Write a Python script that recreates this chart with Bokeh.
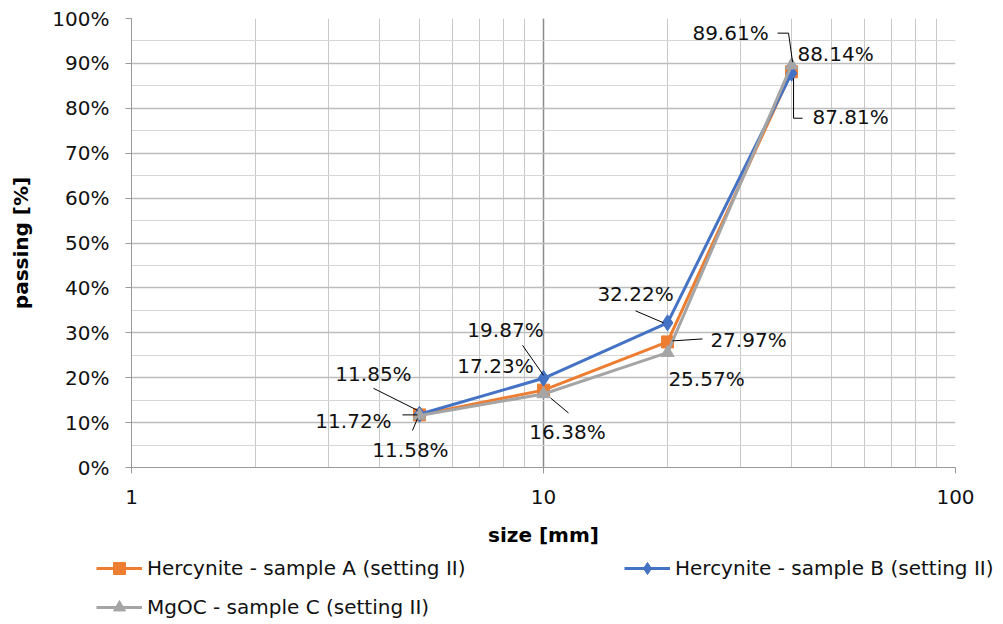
import math
from bokeh.plotting import figure
from bokeh.layouts import column
from bokeh.models import (Range1d, Legend, LegendItem, PrintfTickFormatter,
                          FixedTicker, LogTicker)
from bokeh.core.properties import value
from bokeh.embed import file_html
from bokeh.resources import INLINE

# ---- data ----
sizes = [5, 10, 20, 40]
series_names = ["Hercynite - sample A (setting II)",
                "Hercynite - sample B (setting II)",
                "MgOC - sample C (setting II)"]
sample_a = [11.72, 17.23, 27.97, 88.14]
sample_b = [11.85, 19.87, 32.22, 87.81]
sample_c = [11.58, 16.38, 25.57, 89.61]
y_ticks = [0, 10, 20, 30, 40, 50, 60, 70, 80, 90, 100]
y_minor = [5, 15, 25, 35, 45, 55, 65, 75, 85, 95]

FONT = "DejaVu Sans"
FS = "20px"
W = 1003
H1, H2 = 552, 72
L, R, T, B = 131, 48, 18, 85
fw, fh = W - L - R, H1 - T - B
px_per_dec = fw / 2.0
px_per_unit = fh / 100.0

p = figure(width=W, height=H1, x_axis_type="log", output_backend="svg",
           toolbar_location=None, x_range=Range1d(1, 100), y_range=Range1d(0, 100),
           min_border_left=L, min_border_right=R, min_border_top=T, min_border_bottom=B)
p.outline_line_color = None
p.frame_align = False

p.xaxis.ticker = LogTicker(num_minor_ticks=10)
p.xaxis.formatter = PrintfTickFormatter(format="%d")
p.yaxis.ticker = FixedTicker(ticks=y_ticks, minor_ticks=y_minor)
p.yaxis.formatter = PrintfTickFormatter(format="%d%%")
for ax in (p.xaxis[0], p.yaxis[0]):
    ax.axis_line_color = "#999999"
    ax.major_tick_line_color = "#999999"
    ax.major_tick_out = 6
    ax.major_tick_in = 0
    ax.minor_tick_out = 0
    ax.minor_tick_in = 0
    ax.major_label_text_font = FONT
    ax.major_label_text_font_size = FS
    ax.major_label_text_color = "#111111"
    ax.axis_label_text_font = FONT
    ax.axis_label_text_font_size = FS
    ax.axis_label_text_font_style = "bold"
    ax.axis_label_text_color = "black"
p.xaxis.major_label_standoff = 16
p.yaxis.major_label_standoff = 16
p.xaxis.axis_label = "size [mm]"
p.yaxis.axis_label = "passing [%]"
p.xaxis.axis_label_standoff = 16
p.yaxis.axis_label_standoff = 16

p.xgrid.grid_line_color = "#8c8c8c"
p.xgrid.minor_grid_line_color = "#c8c8c8"
p.ygrid.grid_line_color = "#bdbdbd"
p.ygrid.minor_grid_line_color = "#d6d6d6"
p.xgrid.grid_line_width = 1.5
p.ygrid.grid_line_width = 1.5

colors = ["#ED7D31", "#4472C4", "#A5A5A5"]
markers = ["square", "diamond", "triangle"]
msizes = [12, 16, 13]
all_vals = [sample_a, sample_b, sample_c]
for vals, c, m, ms in zip(all_vals, colors, markers, msizes):
    p.line(sizes, vals, line_color=c, line_width=3)
    p.scatter(sizes, vals, marker=m, size=ms, fill_color=c, line_color=c)

# ---- data labels (pixel offsets of label centre from point) ----
label_offsets = [
    [(-66, 6), (-48, -24), (81, -2), (44, -18)],     # A
    [(-46, -40), (-38, -48), (-32, -29), (59, 44)],  # B
    [(-9, 34), (24, 38), (39, 26), (-61, -32)],      # C
]
leaders = {
    (0, 0): [(-17, 0), (-2, 0)],
    (0, 2): [(5, -1), (35, -3)],
    (1, 0): [(-46, -26), (-2, -4)],
    (1, 1): [(-21, -33), (0, -3)],
    (1, 2): [(-32, -12), (-4, 0)],
    (1, 3): [(11, 45), (2, 45), (2, 5)],
    (2, 0): [(-7, 15), (-2, 3)],
    (2, 1): [(7, 4), (25, 19)],
    (2, 3): [(-14, -32), (-3, -32), (1, -3)],
}

def px_to_data(x, y, dx, dy):
    return (10 ** (math.log10(x) + dx / px_per_dec), y - dy / px_per_unit)

lx, ly, ltxt = [], [], []
for si, vals in enumerate(all_vals):
    for pi, (x, y) in enumerate(zip(sizes, vals)):
        dx, dy = label_offsets[si][pi]
        X, Y = px_to_data(x, y, dx, dy)
        lx.append(X); ly.append(Y); ltxt.append(f"{y:.2f}%")
p.text(lx, ly, text=ltxt, text_font=value(FONT), text_font_size=FS,
       text_align="center", text_baseline="middle", text_color="#111111")

mxs, mys = [], []
for (si, pi), pts in leaders.items():
    x, y = sizes[pi], all_vals[si][pi]
    xs_, ys_ = [], []
    for dx, dy in pts:
        X, Y = px_to_data(x, y, dx, dy)
        xs_.append(X); ys_.append(Y)
    mxs.append(xs_); mys.append(ys_)
p.multi_line(mxs, mys, line_color="black", line_width=1)

# ---- legend figure (series drawn out of view; only legend visible) ----
p2 = figure(width=W, height=H2, output_backend="svg", toolbar_location=None,
            min_border=0, x_range=Range1d(100, 101), y_range=Range1d(200, 201))
p2.frame_align = False
p2.axis.visible = False
p2.grid.visible = False
p2.outline_line_color = None
legend_pos = [(96, 41), (624, 41), (96, 2)]
for name, vals, c, m, ms, pos in zip(series_names, all_vals, colors, markers, msizes, legend_pos):
    ln = p2.line(sizes, vals, line_color=c, line_width=3)
    sc = p2.scatter(sizes, vals, marker=m, size=ms, fill_color=c, line_color=c)
    lg = Legend(items=[LegendItem(label=name, renderers=[ln, sc])], location=pos,
                glyph_width=46, glyph_height=30, label_height=30, label_standoff=5,
                padding=0, margin=0, border_line_color=None, background_fill_alpha=0,
                label_text_font=FONT, label_text_font_size=FS, label_text_color="#111111")
    p2.add_layout(lg, "center")

open("out.html", "w").write(file_html(column(p, p2, spacing=0), INLINE))
